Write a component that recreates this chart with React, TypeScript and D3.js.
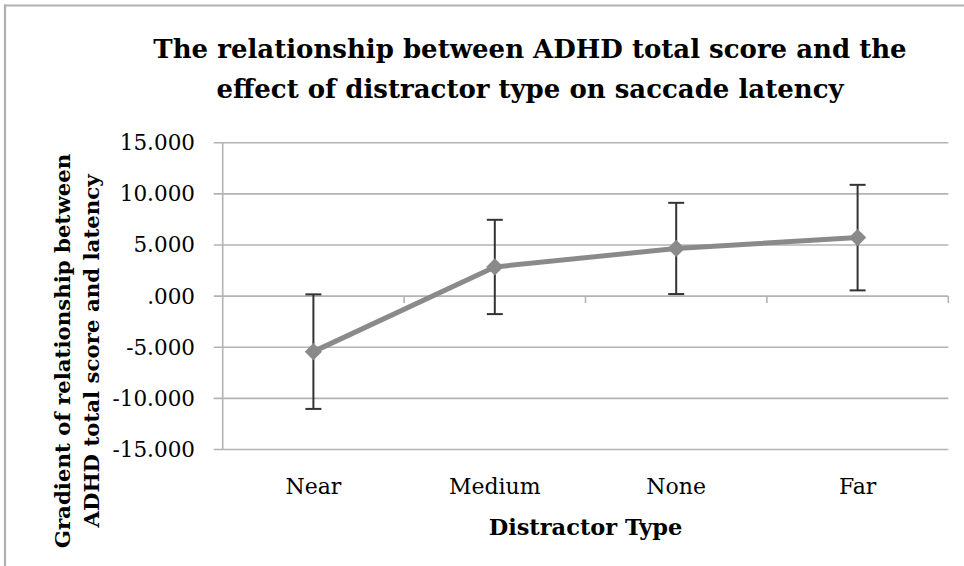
import React from "react";
import * as d3 from "d3";

const categories = ["Near", "Medium", "None", "Far"];
const means = [-5.43, 2.85, 4.66, 5.72];
const errors = [5.6, 4.61, 4.46, 5.16];
const yTicks = [-15, -10, -5, 0, 5, 10, 15];
const yTickLabels = ["-15.000", "-10.000", "-5.000", ".000", "5.000", "10.000", "15.000"];
const titleLines = [
  "The relationship between ADHD total score and the",
  "effect of distractor type on saccade latency",
];
const yTitleLines = ["Gradient of relationship between", "ADHD total score and latency"];
const xTitle = "Distractor Type";

const W = 964;
const H = 566;
const left = 222.7;
const right = 948.3;
const top = 142.7;
const bottom = 449.5;

export default function App() {
  const x = d3.scaleBand<string>().domain(categories).range([left, right]).padding(0);
  const y = d3.scaleLinear().domain([-15, 15]).range([bottom, top]);
  const cx = (c: string) => (x(c) as number) + x.bandwidth() / 2;
  const data = categories.map((c, i) => ({ c, m: means[i], e: errors[i] }));
  const line = d3
    .line<{ c: string; m: number }>()
    .x((d) => cx(d.c))
    .y((d) => y(d.m));
  const sym = d3.symbol().type(d3.symbolDiamond2).size(190);
  const grid = "#b3b3b3";
  const serif = "'DejaVu Serif', serif";
  const boundaries = categories.map((c) => (x(c) as number) + x.bandwidth());

  return (
    <svg
      width={W}
      height={H}
      style={{ position: "absolute", left: 0, top: 0, background: "#fff" }}
    >
      <rect x={0} y={0} width={W} height={H} fill="#fff" />
      {/* frame */}
      <line x1={5} x2={5} y1={4.5} y2={H} stroke="#b0b0b0" strokeWidth={2.2} />
      <line x1={4} x2={W} y1={5.5} y2={5.5} stroke="#b0b0b0" strokeWidth={2.2} />

      {/* title */}
      {titleLines.map((t, i) => (
        <text
          key={t}
          x={530}
          y={58 + i * 40}
          textAnchor="middle"
          fontFamily={serif}
          fontWeight="bold"
          fontSize={26}
          fill="#000"
        >
          {t}
        </text>
      ))}

      {/* gridlines */}
      {yTicks.map((v) => (
        <line key={v} x1={left - 9} x2={right} y1={y(v)} y2={y(v)} stroke={grid} strokeWidth={1.6} />
      ))}
      {/* y axis */}
      <line x1={left} x2={left} y1={top} y2={bottom} stroke={grid} strokeWidth={1.6} />
      {/* x axis ticks at zero */}
      {boundaries.map((b, i) => (
        <line key={i} x1={b} x2={b} y1={y(0)} y2={y(0) + 7} stroke={grid} strokeWidth={1.6} />
      ))}

      {/* y tick labels */}
      {yTicks.map((v, i) => (
        <text
          key={v}
          x={195}
          y={y(v) + 7.5}
          textAnchor="end"
          fontFamily={serif}
          fontSize={21.5}
          fill="#000"
        >
          {yTickLabels[i]}
        </text>
      ))}

      {/* x tick labels */}
      {categories.map((c) => (
        <text
          key={c}
          x={cx(c)}
          y={494}
          textAnchor="middle"
          fontFamily={serif}
          fontSize={22}
          fill="#000"
        >
          {c}
        </text>
      ))}

      {/* x title */}
      <text
        x={(left + right) / 2}
        y={535}
        textAnchor="middle"
        fontFamily={serif}
        fontWeight="bold"
        fontSize={22.5}
        fill="#000"
      >
        {xTitle}
      </text>

      {/* y title */}
      {yTitleLines.map((t, i) => (
        <text
          key={t}
          transform={`translate(${70 + i * 29},${351}) rotate(-90)`}
          textAnchor="middle"
          fontFamily={serif}
          fontWeight="bold"
          fontSize={21.3}
          fill="#000"
        >
          {t}
        </text>
      ))}

      {/* error bars */}
      {data.map((d) => (
        <g key={d.c} stroke="#333" strokeWidth={2}>
          <line x1={cx(d.c)} x2={cx(d.c)} y1={y(d.m + d.e)} y2={y(d.m - d.e)} />
          <line x1={cx(d.c) - 8} x2={cx(d.c) + 8} y1={y(d.m + d.e)} y2={y(d.m + d.e)} />
          <line x1={cx(d.c) - 8} x2={cx(d.c) + 8} y1={y(d.m - d.e)} y2={y(d.m - d.e)} />
        </g>
      ))}

      {/* line */}
      <path d={line(data) || ""} fill="none" stroke="#8a8a8a" strokeWidth={5} strokeLinejoin="round" />
      {/* markers */}
      {data.map((d) => (
        <path
          key={d.c}
          d={sym() || ""}
          transform={`translate(${cx(d.c)},${y(d.m)})`}
          fill="#8a8a8a"
        />
      ))}
    </svg>
  );
}
